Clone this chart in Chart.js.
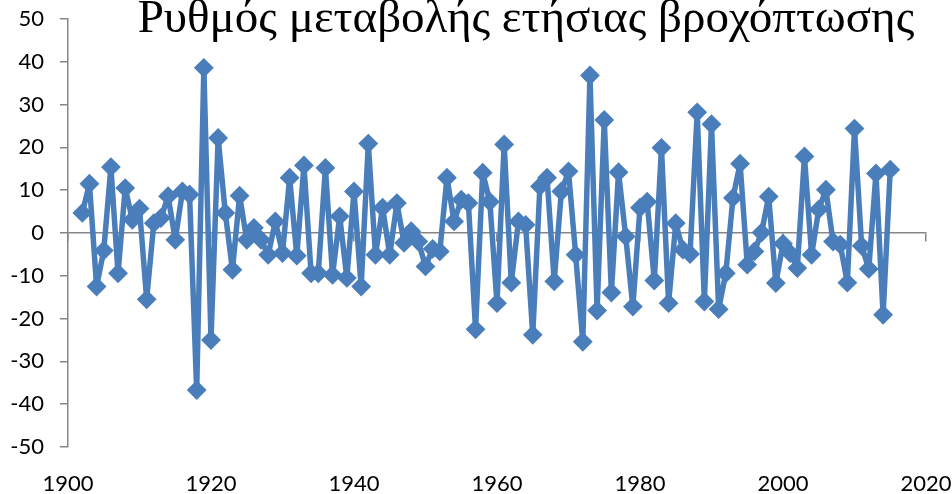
<!DOCTYPE html>
<html>
<head>
<meta charset="utf-8">
<script src="https://cdn.jsdelivr.net/npm/chart.js@4"></script>
<style>
  html, body { margin: 0; padding: 0; background: #fff; }
  #wrap { width: 952px; height: 494px; position: relative; }
</style>
</head>
<body>
<div id="wrap"><canvas id="rain"></canvas></div>
<script>
// --- Data ---
const chartTitle = "Ρυθμός μεταβολής ετήσιας βροχόπτωσης";

const years = [
  1902, 1903, 1904, 1905, 1906, 1907, 1908, 1909, 1910, 1911,
  1912, 1913, 1914, 1915, 1916, 1917, 1918, 1919, 1920, 1921,
  1922, 1923, 1924, 1925, 1926, 1927, 1928, 1929, 1930, 1931,
  1932, 1933, 1934, 1935, 1936, 1937, 1938, 1939, 1940, 1941,
  1942, 1943, 1944, 1945, 1946, 1947, 1948, 1949, 1950, 1951,
  1952, 1953, 1954, 1955, 1956, 1957, 1958, 1959, 1960, 1961,
  1962, 1963, 1964, 1965, 1966, 1967, 1968, 1969, 1970, 1971,
  1972, 1973, 1974, 1975, 1976, 1977, 1978, 1979, 1980, 1981,
  1982, 1983, 1984, 1985, 1986, 1987, 1988, 1989, 1990, 1991,
  1992, 1993, 1994, 1995, 1996, 1997, 1998, 1999, 2000, 2001,
  2002, 2003, 2004, 2005, 2006, 2007, 2008, 2009, 2010, 2011,
  2012, 2013, 2014, 2015
];

// ρυθμός μεταβολής (%) ανά έτος
const changeRate = [
  4.7, 11.5, -12.5, -4.1, 15.4, -9.4, 10.5, 3.1, 5.7, -15.5,
  2.3, 3.5, 8.6, -1.6, 9.7, 9.0, -36.7, 38.6, -25.0, 22.2,
  4.7, -8.6, 8.7, -1.6, 1.2, -1.6, -5.1, 2.7, -4.7, 12.9,
  -5.3, 15.8, -9.4, -9.4, 15.2, -9.8, 3.9, -10.5, 9.7, -12.5,
  20.9, -5.1, 5.9, -5.1, 7.0, -2.3, 0.4, -2.0, -7.8, -3.7,
  -4.3, 12.9, 2.7, 7.8, 7.0, -22.5, 14.1, 7.3, -16.4, 20.7,
  -11.6, 2.7, 1.9, -23.8, 10.9, 12.9, -11.3, 9.7, 14.4, -5.1,
  -25.4, 36.8, -18.1, 26.4, -13.9, 14.2, -0.8, -17.2, 5.9, 7.3,
  -11.1, 19.9, -16.4, 2.3, -3.9, -4.9, 28.2, -16.0, 25.4, -17.8,
  -9.4, 8.2, 16.2, -7.4, -4.3, 0.1, 8.5, -11.7, -2.5, -4.7,
  -8.2, 17.9, -5.1, 5.5, 10.1, -2.0, -2.7, -11.6, 24.4, -3.0,
  -8.4, 13.9, -19.1, 14.8
];

const xTicks = { min: 1900, max: 2020, step: 20 };
const yTicks = { min: -50, max: 50, step: 10 };

// --- Styles ---
const BLUE = "#4a7ebb";
const AXIS = "#868686";
const tickFont = { family: "Lato", size: 22 };
const plain = v => String(v); // no thousands separator on years

// title is drawn over the plot, Excel style
const titlePlugin = {
  id: "overlayTitle",
  afterDraw(chart) {
    const ctx = chart.ctx;
    ctx.save();
    ctx.font = "47px 'Liberation Serif'";
    ctx.fillStyle = "#000";
    ctx.textAlign = "center";
    ctx.textBaseline = "alphabetic";
    ctx.fillText(chartTitle, 526, 32);
    ctx.restore();
  }
};

new Chart(document.getElementById("rain"), {
  type: "line",
  data: {
    datasets: [{
      data: years.map((y, i) => ({ x: y, y: changeRate[i] })),
      borderColor: BLUE,
      backgroundColor: BLUE,
      borderWidth: 5.5,
      borderJoinStyle: "round",
      borderCapStyle: "round",
      pointStyle: "rectRot",
      pointRadius: 8.5,
      pointBorderWidth: 2,
      pointBorderColor: BLUE,
      pointBackgroundColor: BLUE,
      tension: 0,
      xAxisID: "x",
      yAxisID: "y"
    }]
  },
  options: {
    responsive: true,
    maintainAspectRatio: false,
    animation: false,
    layout: { padding: { left: 0, right: 26, top: 19, bottom: 0 } },
    plugins: {
      legend: { display: false },
      tooltip: { enabled: false }
    },
    scales: {
      // axis line crossing at zero, only tick marks
      x: {
        type: "linear",
        position: { y: 0 },
        min: xTicks.min,
        max: xTicks.max,
        ticks: { display: false, stepSize: xTicks.step },
        grid: { drawOnChartArea: false, drawTicks: true, tickLength: 8, color: AXIS, lineWidth: 1.5 },
        border: { display: true, color: AXIS, width: 1.5 }
      },
      // year labels along the bottom
      xLabels: {
        type: "linear",
        position: "bottom",
        min: xTicks.min,
        max: xTicks.max,
        ticks: { stepSize: xTicks.step, color: "#000", font: tickFont, padding: 24, maxRotation: 0, callback: plain },
        grid: { display: false, drawTicks: false },
        border: { display: false },
        afterFit(scale) {
          scale.height = 47;
          scale.paddingLeft = 0;
          scale.paddingRight = 0;
        }
      },
      y: {
        min: yTicks.min,
        max: yTicks.max,
        ticks: { stepSize: yTicks.step, color: "#000", font: tickFont, padding: 16, callback: plain },
        grid: { drawOnChartArea: false, drawTicks: true, tickLength: 8, color: AXIS, lineWidth: 1.5 },
        border: { display: true, color: AXIS, width: 1.5 },
        afterFit(scale) {
          scale.width = 68;
          scale.paddingTop = 0;
          scale.paddingBottom = 0;
        }
      }
    }
  },
  plugins: [titlePlugin]
});
</script>
</body>
</html>
